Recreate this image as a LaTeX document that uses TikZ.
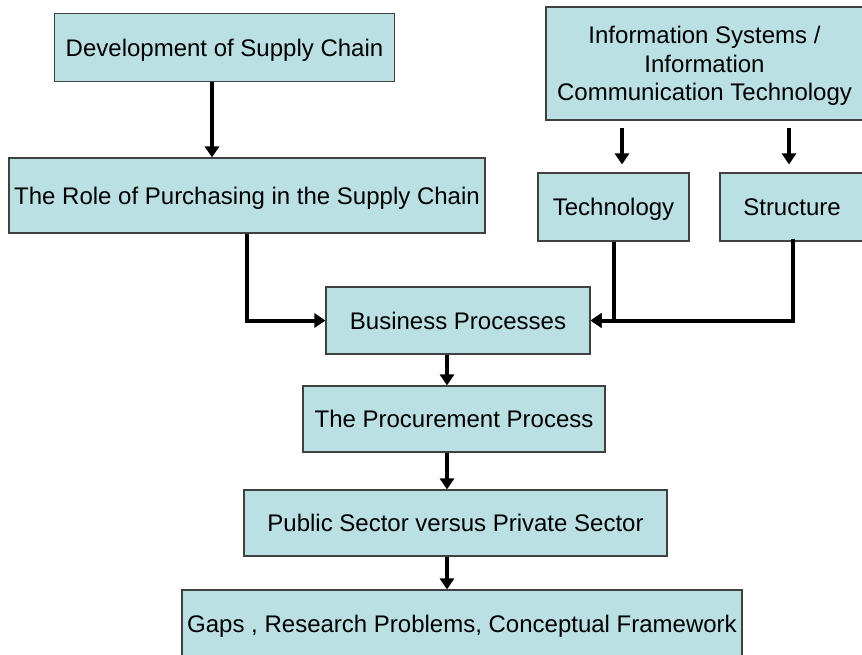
\documentclass[tikz,border=0pt]{standalone}
\usepackage{fontspec}
\setmainfont{Liberation Sans}
\usetikzlibrary{arrows.meta,calc}
\definecolor{boxfill}{RGB}{187,224,227}
\definecolor{boxline}{RGB}{64,64,64}
\begin{document}
\begin{tikzpicture}[x=1pt,y=-1pt,
  box/.style={draw=boxline, line width=1.1pt, fill=boxfill, rectangle, inner sep=0pt,
    text depth=0pt, align=center, font=\fontsize{24}{28.5}\selectfont},
  arr/.style={line width=4pt, -{Triangle[length=11pt,width=14pt]}}]
\useasboundingbox (0,0) rectangle (862,655);
\node[box, minimum width=340pt, minimum height=68pt] (dev) at (224.5,47.5) {Development of Supply Chain};
\node[box, minimum width=317pt, minimum height=113pt] (info) at (704.5,63.5) {Information Systems /\\Information\\Communication Technology};
\node[box, minimum width=476pt, minimum height=75pt] (role) at (247,195.5) {The Role of Purchasing in the Supply Chain};
\node[box, minimum width=151pt, minimum height=68pt] (tech) at (613.5,207) {Technology};
\node[box, minimum width=144pt, minimum height=68pt] (struct) at (792,207) {Structure};
\node[box, minimum width=264pt, minimum height=67pt] (bus) at (458,320.5) {Business Processes};
\node[box, minimum width=302pt, minimum height=66pt] (proc) at (454,419) {The Procurement Process};
\node[box, minimum width=423pt, minimum height=66pt] (pub) at (455.5,523) {Public Sector versus Private Sector};
\node[box, minimum width=560pt, minimum height=68pt] (gaps) at (462,624) {Gaps , Research Problems, Conceptual Framework};
\coordinate (c1) at (212,0);
\coordinate (c2) at (622,0);
\coordinate (c3) at (789,0);
\coordinate (c4) at (793,0);
\coordinate (sp) at (447,0);
\draw[arr] (dev.south -| c1) -- (role.north -| c1);
\draw[arr, shorten <=7pt, shorten >=8pt] (info.south -| c2) -- (tech.north -| c2);
\draw[arr, shorten <=7pt, shorten >=8pt] (info.south -| c3) -- (struct.north -| c3);
\draw[arr] (role.south) |- (bus.west);
\draw[arr] (tech.south) |- (bus.east);
\draw[arr, shorten <=-3pt] (struct.south -| c4) |- (bus.east);
\draw[arr] (bus.south -| sp) -- (proc.north -| sp);
\draw[arr] (proc.south -| sp) -- (pub.north -| sp);
\draw[arr] (pub.south -| sp) -- (gaps.north -| sp);
\end{tikzpicture}
\end{document}
